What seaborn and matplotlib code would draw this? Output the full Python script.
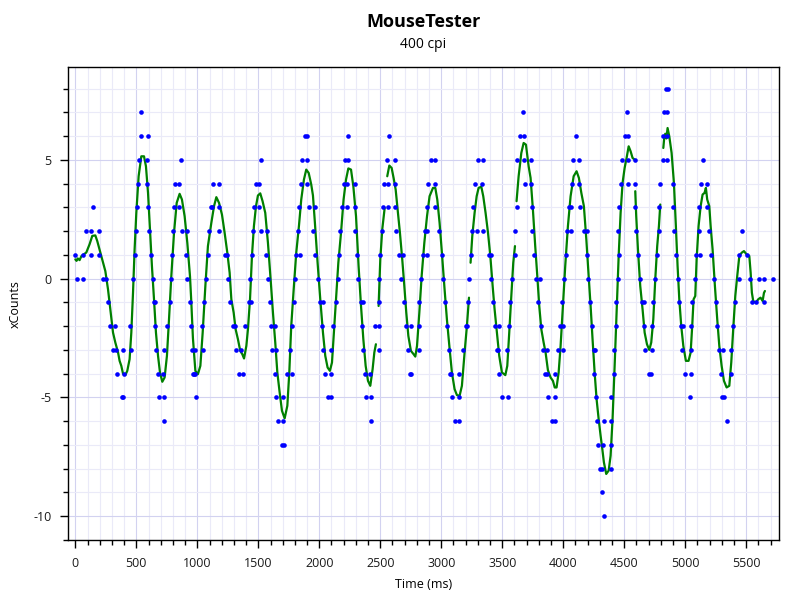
import matplotlib
import matplotlib.pyplot as plt
import numpy as np
import pandas as pd
import seaborn as sns
from matplotlib.ticker import MultipleLocator

matplotlib.use("Agg")

TITLE    = "MouseTester"
SUBTITLE = "400 cpi"
X_LABEL  = "Time (ms)"
Y_LABEL  = "xCounts"

# raw reports: time (ms) and count
dot_t = [
    -3, 14, 60, 63, 90, 128, 131, 148, 191, 194, 227, 254, 268, 287, 311, 328, 331, 344,
    385, 391, 393, 399, 445, 459, 475, 489, 497, 508, 511, 519, 536, 538, 585, 590, 593,
    593, 607, 617, 637, 645, 650, 656, 661, 678, 686, 721, 724, 727, 730, 754, 773, 781,
    795, 803, 811, 820, 852, 852, 869, 877, 904, 915, 918, 940, 951, 956, 964,
    973, 984, 984, 989, 1041, 1044, 1057, 1068, 1085, 1098, 1109, 1117, 1128, 1175, 1178,
    1180, 1230, 1243, 1251, 1270, 1292, 1306, 1317, 1344, 1355, 1374, 1388, 1426, 1432,
    1440, 1445, 1456, 1464, 1478, 1505, 1508, 1519, 1522, 1566, 1571, 1579, 1598, 1607,
    1615, 1634, 1639, 1642, 1642, 1664, 1691, 1705, 1705, 1710, 1738, 1760, 1773, 1776,
    1790, 1798, 1811, 1825, 1833, 1839, 1847, 1861, 1885, 1902, 1902, 1902, 1918, 1948,
    1964, 1964, 1986, 2008, 2025, 2030, 2033, 2049, 2071, 2093, 2096, 2096, 2115, 2139,
    2153, 2158, 2169, 2186, 2199, 2210, 2227, 2227, 2232, 2235, 2290, 2292, 2295, 2306,
    2320, 2342, 2350, 2358, 2358, 2374, 2385, 2415, 2423, 2426, 2454, 2486, 2486, 2486,
    2489, 2500, 2511, 2525, 2533, 2557, 2560, 2560, 2574, 2617, 2620, 2620, 2626, 2650,
    2672, 2683, 2694, 2710, 2727, 2740, 2751, 2754, 2814, 2814, 2814, 2836, 2852, 2866,
    2880, 2883, 2883, 2893, 2915,
    2951, 2951, 2951, 2981, 3008, 3014, 3033, 3046, 3063, 3068, 3082, 3087, 3115, 3145,
    3145, 3148, 3178, 3202, 3210, 3216, 3224, 3246, 3251, 3260, 3279, 3290, 3301, 3336,
    3339, 3344, 3388, 3410, 3410, 3426, 3440, 3456, 3467, 3473, 3473, 3497, 3538, 3546,
    3555, 3563, 3577, 3601, 3607, 3623, 3623, 3648, 3667, 3675, 3675, 3683, 3732, 3738,
    3740, 3740, 3760, 3776, 3795, 3806, 3814, 3833, 3852, 3866, 3866, 3874, 3907,
    3932, 3932, 3934, 3956, 3975, 3989, 3997, 3997, 4008, 4019, 4033, 4044, 4066, 4066,
    4071, 4079, 4104, 4128, 4128, 4134, 4167, 4191, 4197, 4202, 4221, 4235, 4249, 4254,
    4262, 4265, 4276, 4284, 4301, 4317, 4320, 4328, 4331, 4331, 4388, 4388, 4393, 4393,
    4413, 4413, 4429, 4434, 4445, 4451, 4456, 4459, 4473, 4481, 4503, 4522, 4527, 4530,
    4533, 4587, 4590, 4590, 4598, 4609, 4626, 4648, 4661, 4661, 4667, 4702, 4721, 4724,
    4724, 4738, 4754, 4770, 4781, 4781, 4792, 4820, 4820, 4822, 4845, 4850, 4850, 4850,
    4855, 4899,
    4902, 4910, 4926, 4937, 4951, 4962, 4975, 4984, 4995, 5036, 5044, 5046, 5049, 5057,
    5077, 5087, 5109, 5109, 5117, 5126, 5145, 5178, 5178, 5191, 5210, 5238, 5249, 5262,
    5276, 5290, 5303, 5306, 5317, 5342, 5372, 5377, 5391, 5410, 5437, 5437, 5464, 5508,
    5530, 5546, 5579, 5601, 5645, 5645, 5719,
]
dot_v = [
    1, 0, 1, 0, 2, 1, 2, 3, 1, 2, 0, 0, -1, -2, -3, -2, -3, -4,
    -5, -3, -5, -4, -2, -3, 0, 1, 2, 3, 4, 5, 6, 7, 4, 5, 6,
    3, 2, 1, 0, -1, -2, -1, -3, -4, -5, -4, -5, -3, -6, -2, -1, 0,
    1, 2, 3, 4, 4, 3, 5, 2, 1, 2, 0, -1, -2, -3, -4,
    -4, -3, -4, -5, -2, -3, -1, 0, 1, 2, 3, 3, 4, 3, 4,
    2, 1, 1, 0, -1, -2, -2, -3, -4, -3, -4, -2, -1, 0,
    -1, 1, 2, 3, 4, 3, 4, 2, 5, 1, 2, 0, -1, -2,
    -3, -4, -2, -3, -5, -6, -7, -5, -6, -7, -4, -3, -2, -4,
    -1, 0, 1, 2, 3, 1, 4, 5, 6, 6, 5, 4, 3, 2,
    3, 1, 0, -1, -2, -1, -3, -4, -5, -4, -3, -5, -2, -1,
    0, 1, 2, 3, 4, 5, 3, 4, 5, 6, 2, 3, 4, 1,
    0, -1, -2, -1, -3, -4, -5, -4, -6, -5, -2, -2, -1, 0,
    -3, 1, 2, 3, 4, 5, 3, 4, 6, 4, 5, 3, 2, 1,
    0, 1, -1, -2, -3, -4, -2, -4, -3, -2, -1, 0, 1, 2,
    1, 2, 3, 4, 5,
    5, 4, 3, 2, 1, 0, -1, -2, -3, -4, -4, -5, -6, -4,
    -5, -6, -3, -2, -2, -1, 0, 1, 2, 3, 4, 2, 5, 4,
    2, 5, 1, 1, 0, -1, -2, -3, -3, -2, -4, -5, -3, -5,
    -2, -1, 0, 1, 2, 3, 5, 6, 7, 6, 5, 4, 4, 5,
    3, 2, 1, 0, -1, 0, -2, -3, -4, -3, -4, -5, -6,
    -5, -6, -4, -3, -2, -1, -3, -2, 0, 1, 2, 3, 2, 3,
    4, 5, 6, 5, 4, 3, 2, 1, 2, 0, -1, -2, -3, -4,
    -3, -5, -6, -7, -8, -8, -9, -7, -6, -10, -8, -5, -7, -6,
    -4, -3, -2, -1, 0, 2, 1, 3, 4, 5, 6, 7, 5, 4,
    6, 3, 4, 5, 2, 1, 0, -1, -1, -2, -3, -4, -4, -2,
    -3, -1, 0, 1, 2, 3, 4, 5, 6, 7, 8, 5, 6, 7,
    8, 4,
    3, 2, 1, 0, -1, -2, -3, -2, -4, -5, -3, -4, -2, -1,
    0, 1, 2, 3, 1, 4, 5, 4, 3, 2, 1, 0, -1, -2,
    -3, -4, -5, -3, -5, -6, -4, -3, -2, -1, 0, 1, 2, 1,
    0, -1, -1, 0, 0, -1, 0,
]

# smoothed trace, NaN marks a break in the line
line_t = [
    0, 10, 20, 35, 50, 90, 117, 139, 164, 180, 213, 246, 268, 290, 309, 328, 350, 363,
    377, 391, 410, 426, 445, 459, 473, 486, 500, 519, 541, 563, 579, 596, 612, 628, 645,
    661, 678, 694, 713, 732, 751, 768, 787, 809, 831, 855, 874, 896, 918, 940, 950, 964,
    984, 1005, 1025, 1044, 1066, 1087, 1115, 1137, 1156, 1178, 1202, 1224, 1246, 1265,
    1279, 1298, 1314, 1333, 1352, 1369, 1383, 1402, 1415, 1432, 1448, 1464, 1481, 1497,
    1516, 1535, 1557, 1579, 1601, 1620, 1639, 1656, 1675, 1694, 1716, 1738, 1754, 1770,
    1790, 1811, 1833, 1852, 1874, 1893, 1913, 1934, 1948, 1964, 1986, 2008, 2030, 2049,
    2068, 2087, 2104, 2120, 2137, 2156, 2178, 2199, 2219, 2238, 2260, 2279, 2301, 2322,
    2342, 2361, 2380, 2399, 2418, 2437, 2451, 2464, np.nan,
    2486, 2500, 2516, 2536, np.nan,
    2557, 2574, 2593, 2609, 2626, 2642, 2661, 2680, 2697, 2713, 2730, 2751, 2773, 2787,
    2801, 2820, 2839, 2861, 2883, 2904, 2932, 2951, 2967, 2986, 3005, 3027, 3046, 3066,
    3087, 3109, 3128, 3150, 3169, 3191, 3210, 3227, np.nan,
    3240, 3254, 3273, 3290, 3306, 3328, 3344, 3363, 3383, 3402, 3421, 3437, 3456, 3475,
    3497, 3525, 3541, 3557, 3574, 3590, 3604, np.nan,
    3617, 3634, 3656, 3675, 3694, 3716, 3732, 3751, 3770, 3787, 3803, 3820, 3839, 3855,
    3874, 3896, 3915, 3930, 3945, 3962, 3978, 3997, 4016, 4038, 4060, 4085, 4109, 4128,
    4148, 4169, 4189, 4208, 4224, 4240, 4257, 4273, 4290, 4306, 4320, 4333, 4352, 4372,
    4388, 4404, 4421, 4437, 4454, 4470, 4486, 4503, 4519, 4536, 4552, 4568, 4585, np.nan,
    4590, 4598, 4612, 4631, 4650, 4667, 4686, 4705, 4721, 4738, 4754, 4770, 4784, 4795,
    np.nan,
    4820, 4828, 4836, 4845, 4855, 4869, 4888, 4907, 4923, 4937, 4951, 4967, 4984, 5005,
    5027, 5044, 5057, 5068, 5082, 5093, 5109, 5126, 5142, 5158, 5169, 5180, 5197, 5208,
    5224, 5243, 5262, 5279, 5298, 5317, 5339, 5361, 5377, 5393, 5410, 5426, 5443, 5462,
    5481, 5503, 5525, 5536, 5546, 5557, 5579, 5598, 5617, 5634, 5645, 5653,
]
line_v = [
    0.81, 0.75, 0.85, 0.78, 0.95, 1.1, 1.45, 1.8, 1.82, 1.58, 0.95, 0.32, -0.45, -1.43,
    -2.27, -2.69, -3.1, -3.46, -3.67, -4.0, -4.06, -3.88, -3.39, -2.27, -0.59, 1.23, 2.77,
    4.31, 5.15, 5.15, 4.73, 3.61, 2.07, 0.53, -0.87, -2.27, -3.25, -3.95, -4.34, -4.16,
    -3.25, -1.71, 0.11, 1.93, 3.19, 3.57, 3.33, 2.63, 1.51, 0.1, -0.9, -2.5, -3.88, -4.02,
    -3.67, -2.27, -0.31, 1.37, 2.35, 3.05, 3.43, 3.19, 2.70, 1.93, 1.09, 0.25, -0.87,
    -1.43, -2.13, -2.55, -3.04, -3.18, -3.36, -2.83, -2.13, -0.87, 0.95, 2.21, 3.05, 3.50,
    3.59, 3.26, 2.77, 1.51, -0.03, -1.43, -2.69, -3.95, -4.79, -5.56, -5.88, -5.35, -3.95,
    -1.99, -0.45, 1.09, 2.21, 3.33, 4.17, 4.59, 4.45, 3.96, 3.5, 2.35, 0.67, -0.87, -2.27,
    -3.25, -3.74, -3.88, -3.53, -2.27, -0.87, 0.67, 1.93, 3.33, 4.17, 4.64, 4.59, 3.89,
    2.63, 0.53, -1.15, -2.55, -3.67, -4.30, -4.51, -3.81, -3.11, -2.76, np.nan,
    -1.15, 0.81, 2.07, 2.98, np.nan,
    4.31, 4.76, 4.66, 4.24, 3.75, 2.91, 1.93, 0.81, -0.31, -1.43, -2.41, -3.04, -3.18,
    -3.28, -2.83, -1.43, 0.11, 1.51, 2.63, 3.47, 3.82, 3.82, 3.33, 2.35, 1.09, -0.45,
    -1.71, -2.83, -3.95, -4.65, -4.90, -4.93, -4.51, -3.11, -1.99, -0.80, np.nan,
    0.67, 1.79, 2.77, 3.47, 3.82, 3.87, 3.47, 2.77, 1.93, 0.95, -0.31, -1.29, -2.27,
    -3.25, -3.95, -4.06, -3.67, -2.27, -0.73, 0.67, 1.37, np.nan,
    3.26, 4.31, 5.29, 5.71, 5.64, 4.73, 4.24, 2.91, 1.37, 0.11, -1.15, -2.13, -2.69,
    -3.11, -3.85, -4.16, -4.3, -4.58, -4.58, -3.95, -2.83, -1.15, 0.53, 2.21, 3.47, 4.31,
    4.52, 4.24, 3.61, 3.05, 1.65, 0.11, -1.15, -2.55, -3.95, -5.07, -5.91, -6.61, -7.17,
    -7.73, -8.22, -8.08, -7.45, -5.91, -3.67, -1.43, 0.95, 2.77, 4.03, 4.66, 5.08, 5.57,
    5.36, 5.08, 5.01, np.nan,
    3.68, 2.63, 1.23, -0.31, -1.29, -2.27, -2.76, -3.0, -2.69, -1.71, -0.03, 1.37, 2.21,
    3.12, np.nan,
    5.5, 5.95, 6.1, 5.9, 6.34, 5.99, 5.29, 4.03, 2.21, 0.53, -0.87, -1.99, -2.83, -3.46,
    -3.46, -3.11, -1.99, -0.87, -0.73, 0.81, 2.21, 3.05, 3.54, 3.61, 3.82, 3.33, 3.05,
    2.21, 1.23, -0.31, -1.71, -2.83, -3.67, -4.30, -4.58, -4.51, -3.53, -2.13, -0.73,
    0.11, 0.95, 1.09, 1.16, 1.02, 0.95, 0.25, -0.59, -0.94, -1.01, -0.87, -0.80, -0.94,
    -0.6, -0.52,
]

x_ticks = list(range(0, 5501, 500))
y_ticks = [-10, -5, 0, 5]

dots = pd.DataFrame({"t": dot_t, "v": dot_v})
trace = pd.DataFrame({"t": line_t, "v": line_v})
trace["seg"] = trace["t"].isna().cumsum()
trace = trace.dropna()

sns.set_style("white")
plt.rcParams["font.family"] = ["Open Sans", "DejaVu Sans"]
plt.rcParams["axes.unicode_minus"] = False
plt.rcParams["text.color"] = "black"
plt.rcParams["axes.labelcolor"] = "black"

fig = plt.figure(figsize=(8, 6), dpi=100)
ax = fig.add_axes([0.085, 0.1, 0.889, 0.788])

ax.xaxis.set_major_locator(MultipleLocator(500))
ax.xaxis.set_minor_locator(MultipleLocator(100))
ax.yaxis.set_major_locator(MultipleLocator(5))
ax.yaxis.set_minor_locator(MultipleLocator(1))
ax.grid(which="minor", color="#eaeaf8", linewidth=0.8, zorder=0)
ax.grid(which="major", color="#d2d2f0", linewidth=0.8, zorder=0)
ax.set_axisbelow(True)

sns.lineplot(data=trace, x="t", y="v", units="seg", estimator=None, sort=False,
             color="#008000", linewidth=1.6, ax=ax, zorder=2)
sns.scatterplot(data=dots, x="t", y="v", color="#0000ff", s=11, linewidth=0,
                ax=ax, zorder=3)

ax.set_xlim(-60, 5770)
ax.set_ylim(-11, 8.9)
ax.set_xticks(x_ticks)
ax.set_xticklabels([str(t) for t in x_ticks])
ax.set_yticks(y_ticks)
ax.set_yticklabels([str(t) for t in y_ticks])

ax.tick_params(which="major", direction="out", length=6, width=1, color="black",
               labelsize=9, labelcolor="#1a1a1a", pad=6)
ax.tick_params(which="minor", direction="out", length=3.5, width=1, color="black")
ax.tick_params(axis="x", which="both", bottom=True)
ax.tick_params(axis="y", which="both", left=True)

for sp in ax.spines.values():
    sp.set_color("black")
    sp.set_linewidth(1)

ax.set_xlabel(X_LABEL, fontsize=9, labelpad=6)
ax.set_ylabel(Y_LABEL, fontsize=9, labelpad=8)

fig.text(0.529, 0.963, TITLE, ha="center", va="center", fontsize=13, fontweight="bold")
fig.text(0.529, 0.925, SUBTITLE, ha="center", va="center", fontsize=10)

fig.savefig("out.png", dpi=100)
plt.close(fig)
